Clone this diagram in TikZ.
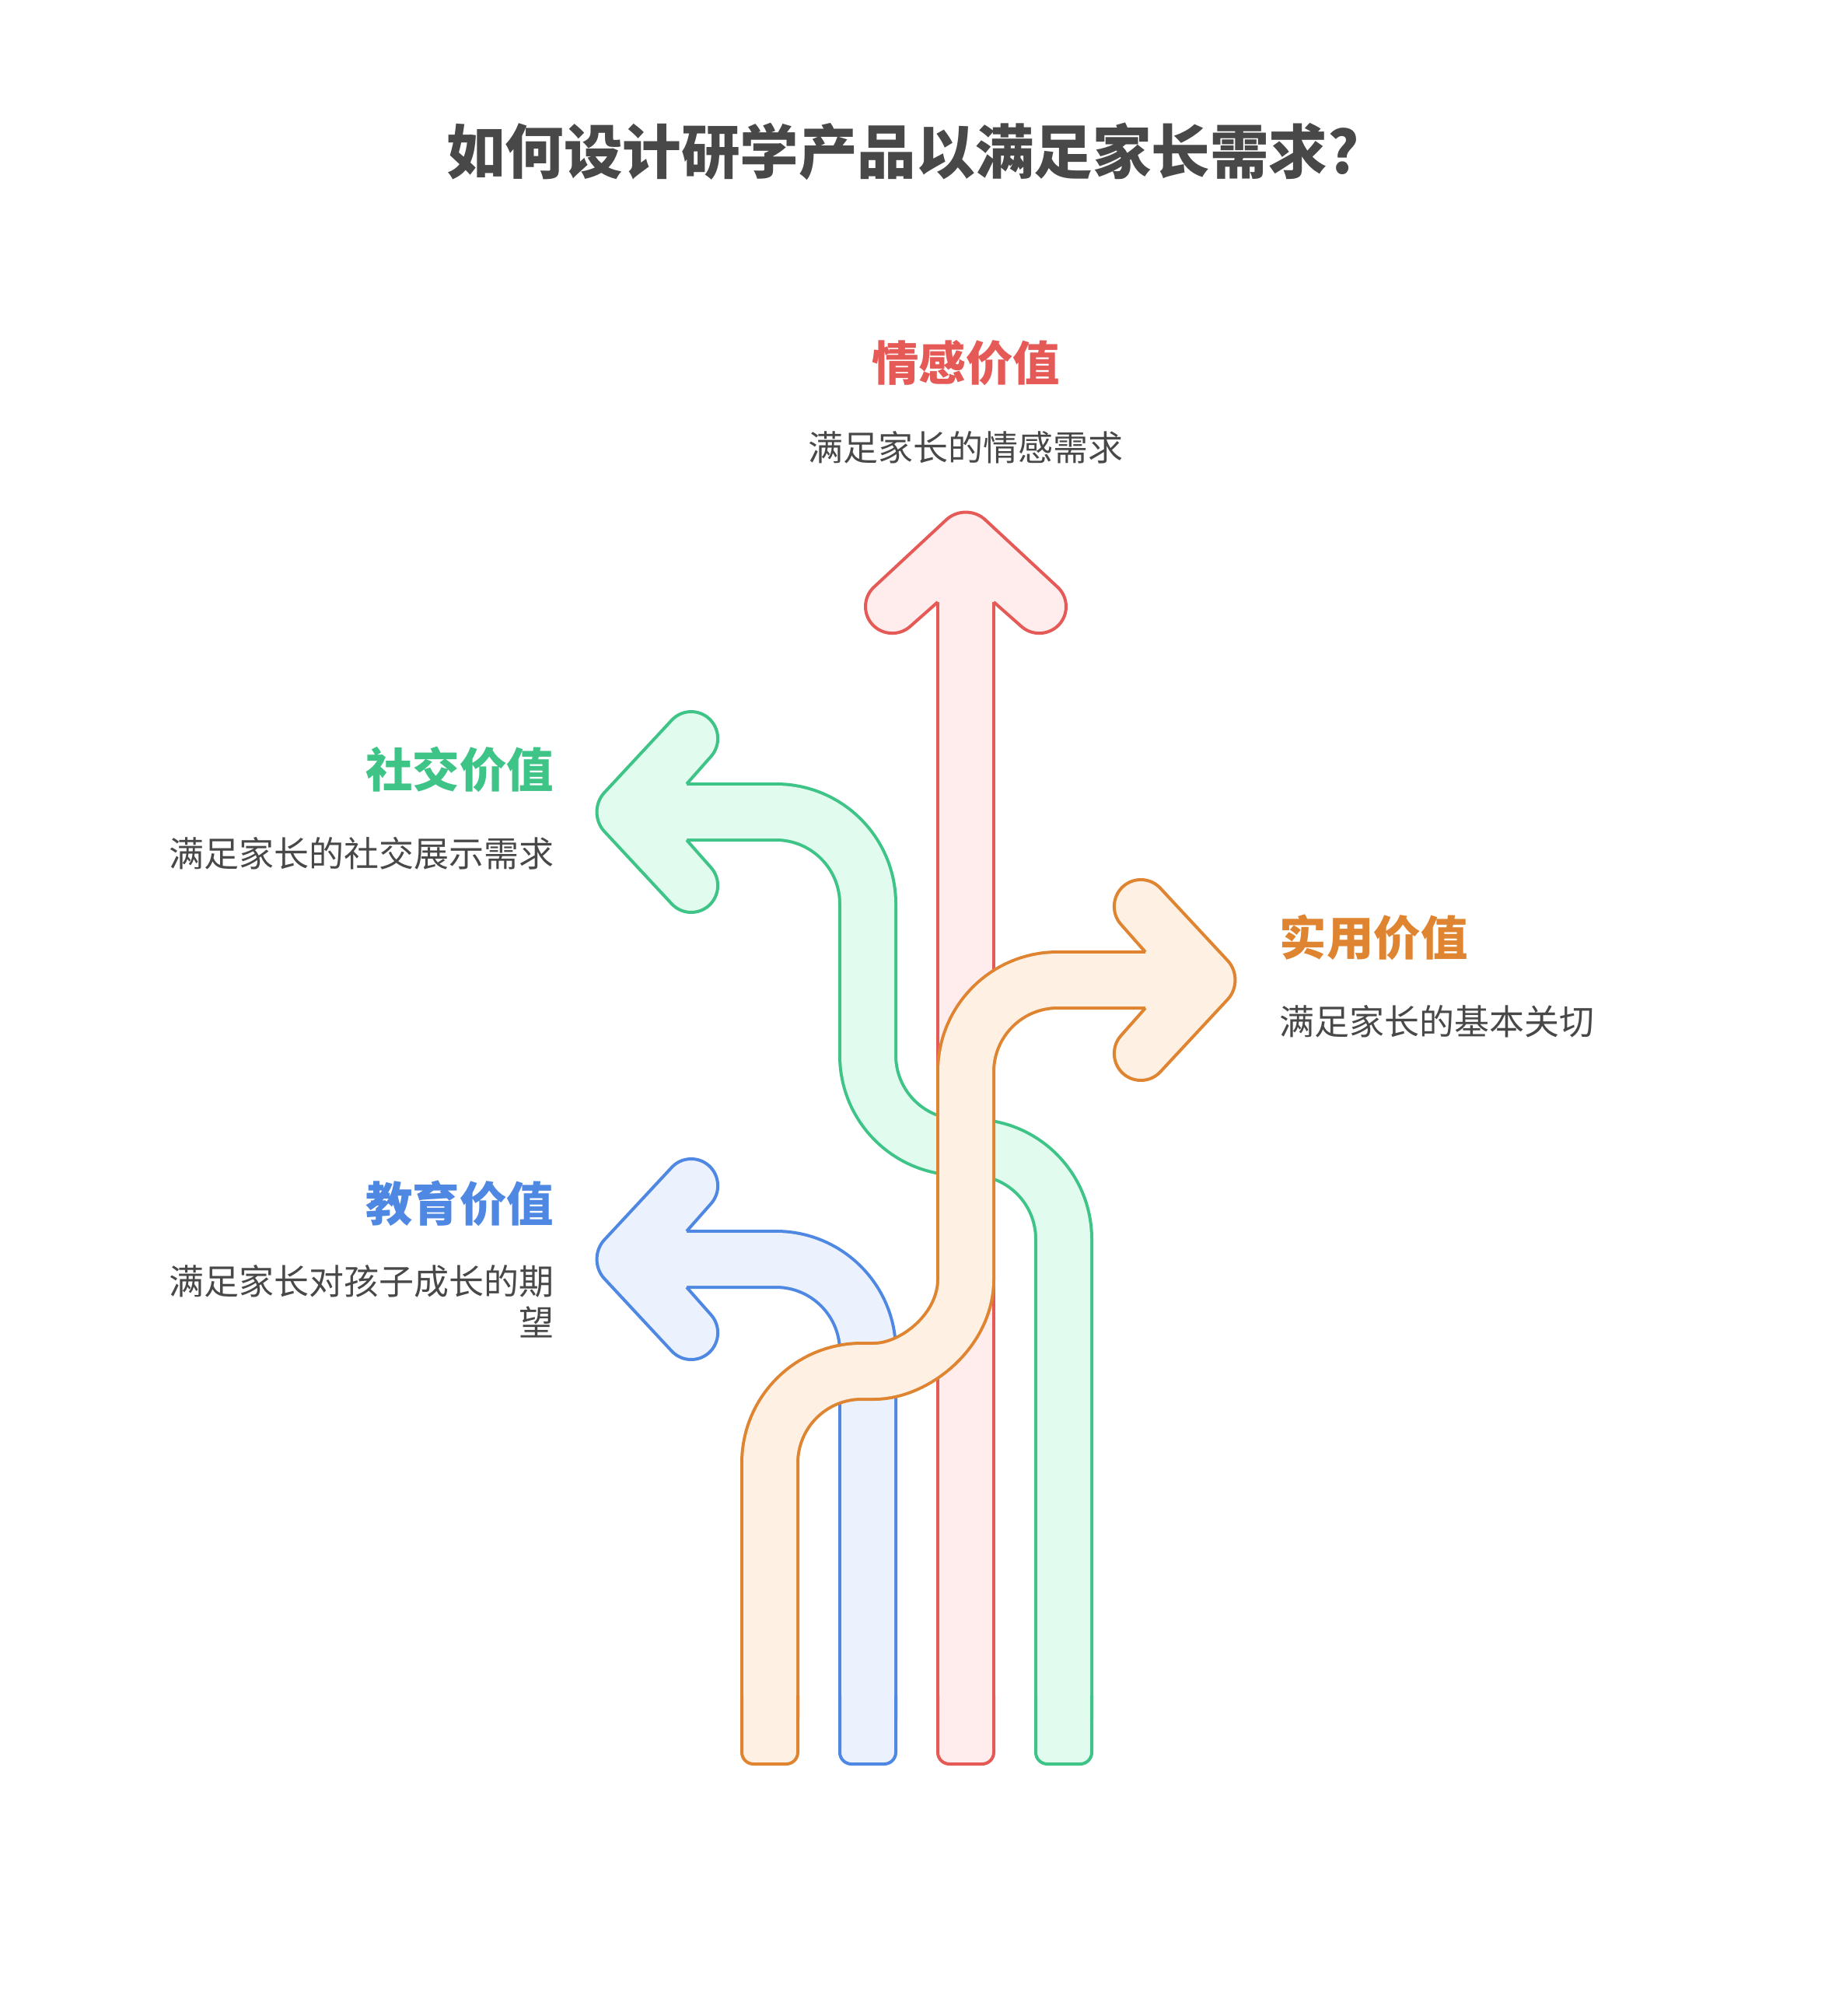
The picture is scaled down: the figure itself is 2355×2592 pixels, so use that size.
\documentclass[tikz,border=0pt]{standalone}
\usepackage{fontspec}
\newfontfamily\cjk{Noto Sans CJK SC}
\definecolor{redS}{HTML}{E55A57}
\definecolor{redF}{HTML}{FFECEC}
\definecolor{grnS}{HTML}{3EC487}
\definecolor{grnF}{HTML}{E1FCEF}
\definecolor{bluS}{HTML}{4F88E3}
\definecolor{bluF}{HTML}{EBF2FE}
\definecolor{orgS}{HTML}{DF8531}
\definecolor{orgF}{HTML}{FEF1E4}
\definecolor{txt}{HTML}{484848}
\tikzset{
  shaft/.style 2 args={draw=#1, double=#2, line width=0.4mm, double distance=6.8mm, line cap=butt, line join=round},
  head/.style 2 args={draw=#1, fill=#2, line width=0.4mm, rounded corners=3.4mm, line join=round},
  tail/.style 2 args={draw=#1, fill=#2, line width=0.4mm, rounded corners=1.5mm},
  lab/.style={font=\cjk\bfseries\fontsize{17.2}{20}\selectfont, inner sep=0pt},
  sub/.style={font=\cjk\fontsize{12.8}{15.1}\selectfont, text=txt, inner sep=0pt},
}
\begin{document}
\begin{tikzpicture}[x=0.1mm, y=-0.1mm]
\useasboundingbox[fill=white] (0,0) rectangle (2355,2592);

% ---- red arrow (up) ----
\draw[shaft={redS}{redF}] (1242,774) -- (1242,2210);
\filldraw[tail={redS}{redF}] (1206,2180) -- (1206,2268) -- (1278,2268) -- (1278,2180);
\fill[redF] (1209,762) rectangle (1275,786);
\filldraw[head={redS}{redF}] (1278,774) -- (1339,828) -- (1385,778) -- (1242,645) -- (1099,778) -- (1145,828) -- (1206,774);

% ---- green arrow (left, S) ----
\draw[shaft={grnS}{grnF}] (883,1044) -- (998,1044)
  .. controls (1063.2,1044) and (1116,1096.8) .. (1116,1162)
  -- (1116,1357)
  .. controls (1116,1422.2) and (1168.8,1475) .. (1234,1475)
  -- (1250,1475)
  .. controls (1315.2,1475) and (1368,1527.8) .. (1368,1593)
  -- (1368,2210);
\filldraw[tail={grnS}{grnF}] (1332,2180) -- (1332,2268) -- (1404,2268) -- (1404,2180);
\fill[grnF] (871,1011) rectangle (895,1077);
\filldraw[head={grnS}{grnF}] (883,1080) -- (937,1141) -- (887,1187) -- (754,1044) -- (887,901) -- (937,947) -- (883,1008);

% ---- blue arrow (left) ----
\draw[shaft={bluS}{bluF}] (883,1619) -- (998,1619)
  .. controls (1063.2,1619) and (1116,1671.8) .. (1116,1737)
  -- (1116,2210);
\filldraw[tail={bluS}{bluF}] (1080,2180) -- (1080,2268) -- (1152,2268) -- (1152,2180);
\fill[bluF] (871,1586) rectangle (895,1652);
\filldraw[head={bluS}{bluF}] (883,1655) -- (937,1716) -- (887,1762) -- (754,1619) -- (887,1476) -- (937,1522) -- (883,1583);

% ---- orange arrow (right, S) ----
\draw[shaft={orgS}{orgF}] (1473,1260) -- (1360,1260)
  .. controls (1294.8,1260) and (1242,1312.8) .. (1242,1378)
  -- (1242,1645)
  .. controls (1242,1710.2) and (1176.8,1763) .. (1124,1763)
  -- (1108,1763)
  .. controls (1042.8,1763) and (990,1815.8) .. (990,1881)
  -- (990,2210);
\filldraw[tail={orgS}{orgF}] (954,2180) -- (954,2268) -- (1026,2268) -- (1026,2180);
\fill[orgF] (1461,1227) rectangle (1485,1293);
\filldraw[head={orgS}{orgF}] (1473,1296) -- (1419,1357) -- (1469,1403) -- (1602,1260) -- (1469,1117) -- (1419,1163) -- (1473,1224);

% ---- texts ----
\node[font=\cjk\bfseries\fontsize{21.5}{26}\selectfont, text=txt, inner sep=0pt] (title) at (1161,195) {如何设计研学产品以满足家长需求?};
\node[lab, text=redS] (emoT) at (1242,467) {情感价值};
\node[sub] (emoS) at (1242,575) {满足家长的情感需求};
\node[lab, text=grnS, anchor=east] (socT) at (713,989) {社交价值};
\node[sub, anchor=east] (socS) at (713,1097) {满足家长的社交展示需求};
\node[lab, text=orgS, anchor=west] (praT) at (1645,1205) {实用价值};
\node[sub, anchor=west] (praS) at (1645,1313) {满足家长的基本关切};
\node[lab, text=bluS, anchor=east] (eduT) at (713,1547) {教育价值};
\node[sub, anchor=east, align=right] (eduS) at (713,1673) {满足家长对孩子成长的期\\望};
\end{tikzpicture}
\end{document}
